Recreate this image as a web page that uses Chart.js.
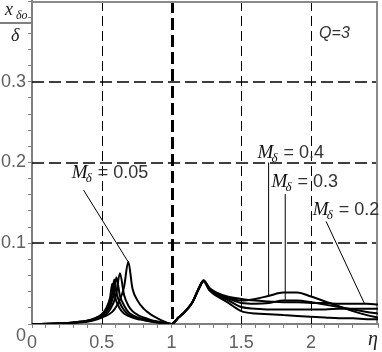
<!DOCTYPE html>
<html>
<head>
    <style>
        html, body { margin: 0; padding: 0; background: #fff; }
        #wrap { width: 382px; height: 352px; }
    </style>
    <script src="https://cdn.jsdelivr.net/npm/chart.js"></script>
</head>
<body>
    <div id="wrap"><canvas id="myChart" width="382" height="352"></canvas></div>
    <script>
        // frequency ratio eta (shared x values)
        var eta = [0, 0.2, 0.3, 0.4, 0.45, 0.5, 0.53, 0.56, 0.575, 0.59, 0.605, 0.63, 0.66, 0.69, 0.72, 0.76, 0.8, 0.85, 0.9, 0.95, 1.0,
                   1.05, 1.1, 1.15, 1.2, 1.23, 1.27, 1.32, 1.4,
                   1.5, 1.6, 1.7, 1.8, 1.9, 2.0, 2.1, 2.2, 2.3, 2.4, 2.48];

        // x_do / delta for each mass ratio M_d
        var m005 = [0, 0.0005, 0.0015, 0.003, 0.005, 0.008, 0.010, 0.013, 0.015, 0.018, 0.022, 0.030, 0.046, 0.077, 0.044, 0.028, 0.019, 0.012, 0.007, 0.003, 0,
                    0.008, 0.016, 0.027, 0.045, 0.053, 0.042, 0.035, 0.027,
                    0.016, 0.013, 0.012, 0.011, 0.010, 0.009, 0.008, 0.007, 0.007, 0.006, 0.006];
        var m01  = [0, 0.0005, 0.0015, 0.0035, 0.006, 0.009, 0.012, 0.018, 0.023, 0.029, 0.038, 0.063, 0.036, 0.023, 0.016, 0.011, 0.008, 0.005, 0.003, 0.0015, 0,
                    0.008, 0.016, 0.027, 0.045, 0.053, 0.043, 0.036, 0.030,
                    0.021, 0.019, 0.018, 0.018, 0.018, 0.018, 0.018, 0.019, 0.019, 0.019, 0.019];
        var m02  = [0, 0.0005, 0.002, 0.004, 0.006, 0.010, 0.015, 0.022, 0.030, 0.040, 0.058, 0.035, 0.023, 0.015, 0.011, 0.008, 0.006, 0.004, 0.0025, 0.001, 0,
                    0.008, 0.016, 0.027, 0.046, 0.054, 0.045, 0.039, 0.034,
                    0.031, 0.029, 0.028, 0.027, 0.027, 0.026, 0.026, 0.025, 0.025, 0.025, 0.024];
        var m03  = [0, 0.0005, 0.002, 0.004, 0.007, 0.011, 0.017, 0.027, 0.038, 0.055, 0.039, 0.026, 0.017, 0.012, 0.009, 0.007, 0.005, 0.0035, 0.002, 0.001, 0,
                    0.008, 0.016, 0.027, 0.046, 0.054, 0.044, 0.037, 0.032,
                    0.026, 0.025, 0.026, 0.029, 0.029, 0.027, 0.024, 0.021, 0.018, 0.015, 0.013];
        var m04  = [0, 0.0005, 0.002, 0.0045, 0.007, 0.012, 0.019, 0.033, 0.050, 0.038, 0.028, 0.019, 0.013, 0.010, 0.008, 0.006, 0.005, 0.003, 0.002, 0.001, 0,
                    0.008, 0.016, 0.027, 0.046, 0.054, 0.044, 0.038, 0.033,
                    0.029, 0.031, 0.035, 0.039, 0.039, 0.034, 0.028, 0.022, 0.016, 0.011, 0.008];

        var seriesList = [m005, m01, m02, m03, m04];

        // dashed reference lines
        var gridX = [0.5, 1, 1.5, 2];
        var gridY = [0.1, 0.2, 0.3];

        // curve labels: text position, pointer start, pointer end (data units)
        var labels = [
            { text: '0.05', at: [0.285, 0.181], from: [0.369, 0.166], to: [0.689, 0.077] },
            { text: '0.4',  at: [1.617, 0.206], from: [1.696, 0.200], to: [1.696, 0.035] },
            { text: '0.3',  at: [1.717, 0.170], from: [1.815, 0.161], to: [1.815, 0.030] },
            { text: '0.2',  at: [2.012, 0.135], from: [2.108, 0.127], to: [2.381, 0.026] }
        ];

        function pts(ys) {
            return ys.map(function (y, i) { return { x: eta[i], y: y }; });
        }

        function near(v, step) {
            return Math.abs(v / step - Math.round(v / step)) < 1e-6;
        }

        var extras = {
            id: 'extras',
            beforeDatasetsDraw: function (chart) {
                var ctx = chart.ctx, xs = chart.scales.x, ys = chart.scales.y, a = chart.chartArea;
                ctx.save();
                ctx.strokeStyle = '#000';
                gridX.forEach(function (v) {
                    var px = Math.round(xs.getPixelForValue(v)) + 0.5;
                    ctx.lineWidth = v === 1 ? 3 : 1;
                    ctx.setLineDash(v === 1 ? [12, 5] : [10, 5]);
                    ctx.beginPath(); ctx.moveTo(px, a.top); ctx.lineTo(px, a.bottom); ctx.stroke();
                });
                ctx.lineWidth = 1.5;
                ctx.setLineDash([12, 5]);
                gridY.forEach(function (v) {
                    var py = Math.round(ys.getPixelForValue(v));
                    ctx.beginPath(); ctx.moveTo(a.left, py); ctx.lineTo(a.right, py); ctx.stroke();
                });
                ctx.setLineDash([]);
                // frame top/right
                ctx.strokeStyle = '#8a8a8a';
                ctx.lineWidth = 2;
                ctx.beginPath();
                ctx.moveTo(a.left, a.top + 1); ctx.lineTo(a.right - 1, a.top + 1); ctx.lineTo(a.right - 1, a.bottom);
                ctx.stroke();
                ctx.restore();
            },
            afterDatasetsDraw: function (chart) {
                var ctx = chart.ctx, xs = chart.scales.x, ys = chart.scales.y;
                function X(v) { return xs.getPixelForValue(v); }
                function Y(v) { return ys.getPixelForValue(v); }
                ctx.save();
                // pointers and M labels
                ctx.strokeStyle = '#000';
                ctx.lineWidth = 1;
                labels.forEach(function (l) {
                    ctx.beginPath();
                    ctx.moveTo(X(l.from[0]), Y(l.from[1]));
                    ctx.lineTo(X(l.to[0]), Y(l.to[1]));
                    ctx.stroke();
                    var px = X(l.at[0]), py = Y(l.at[1]);
                    ctx.fillStyle = '#111';
                    ctx.textBaseline = 'alphabetic';
                    ctx.textAlign = 'left';
                    ctx.font = 'italic 19px "Liberation Serif"';
                    ctx.fillText('M', px, py);
                    ctx.font = 'italic 13px "Liberation Serif"';
                    ctx.fillText('\u03b4', px + 14, py + 4);
                    ctx.font = '18px "Liberation Sans"';
                    ctx.fillStyle = '#333';
                    ctx.fillText('= ' + l.text, px + 26, py);
                });
                // Q = 3
                ctx.fillStyle = '#333';
                ctx.font = 'italic 16px "Liberation Sans"';
                ctx.fillText('Q=3', X(2.058), Y(0.354));
                // y title: x_do / delta
                ctx.fillStyle = '#222';
                ctx.font = 'italic 18px "Liberation Serif"';
                ctx.fillText('x', 5, 15);
                ctx.font = 'italic 12px "Liberation Serif"';
                ctx.fillText('\u03b4o', 16, 19);
                ctx.strokeStyle = '#808080';
                ctx.lineWidth = 2;
                ctx.beginPath(); ctx.moveTo(0, 23); ctx.lineTo(32, 23); ctx.stroke();
                ctx.font = 'italic 18px "Liberation Serif"';
                ctx.fillText('\u03b4', 11, 41);
                // eta at end of x axis, and the 0 of the y axis
                ctx.font = 'italic 20px "Liberation Serif"';
                ctx.textAlign = 'center';
                ctx.fillText('\u03b7', 373, 345);
                ctx.fillStyle = '#606060';
                ctx.font = '18px "Liberation Sans"';
                ctx.textAlign = 'right';
                ctx.textBaseline = 'middle';
                ctx.fillText('0', 26, Y(0) + 12);
                ctx.restore();
            }
        };

        var ctx = document.getElementById('myChart').getContext('2d');
        var myChart = new Chart(ctx, {
            type: 'line',
            data: {
                datasets: seriesList.map(function (s) {
                    return {
                        data: pts(s),
                        borderColor: '#000',
                        borderWidth: 2,
                        pointRadius: 0,
                        fill: false,
                        cubicInterpolationMode: 'monotone'
                    };
                })
            },
            options: {
                responsive: false,
                animation: false,
                layout: { padding: { top: 1, right: 4, left: 0, bottom: 0 } },
                plugins: { legend: { display: false }, tooltip: { enabled: false } },
                scales: {
                    x: {
                        type: 'linear',
                        min: 0,
                        max: 2.48,
                        afterFit: function (s) { s.height = 28; s.paddingLeft = 0; s.paddingRight = 0; },
                        border: { color: '#808080', width: 2 },
                        grid: { drawOnChartArea: false, drawTicks: true, tickLength: 4, tickColor: '#808080' },
                        ticks: {
                            stepSize: 0.1,
                            autoSkip: false,
                            maxRotation: 0,
                            padding: 4,
                            color: '#606060',
                            font: { family: 'Liberation Sans', size: 18 },
                            callback: function (v) {
                                return (near(v, 0.5) && v < 2.4) ? String(Math.round(v * 10) / 10) : '';
                            }
                        }
                    },
                    y: {
                        min: 0,
                        max: 0.4,
                        afterFit: function (s) { s.width = 32; s.paddingTop = 0; s.paddingBottom = 0; },
                        border: { color: '#808080', width: 2 },
                        grid: { drawOnChartArea: false, drawTicks: true, tickLength: 4, tickColor: '#808080' },
                        ticks: {
                            stepSize: 0.02,
                            autoSkip: false,
                            padding: 2,
                            color: '#606060',
                            font: { family: 'Liberation Sans', size: 18 },
                            callback: function (v) {
                                return (near(v, 0.1) && v > 0.05 && v < 0.35) ? v.toFixed(1) : '';
                            }
                        }
                    }
                }
            },
            plugins: [extras]
        });
    </script>
</body>
</html>
